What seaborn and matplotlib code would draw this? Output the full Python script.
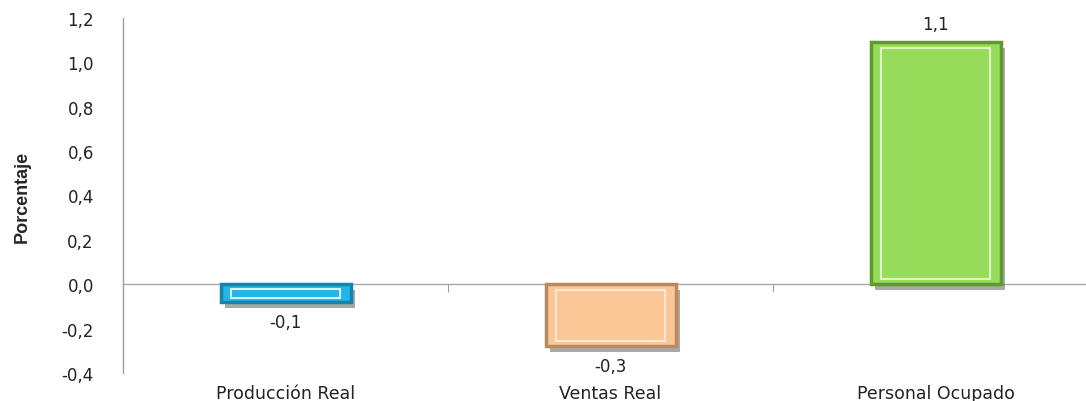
import matplotlib
matplotlib.use("Agg")
import matplotlib.pyplot as plt
import matplotlib.patheffects as pe
from matplotlib.patches import Rectangle
import seaborn as sns
import pandas as pd

# data
categorias = ["Producción Real", "Ventas Real", "Personal Ocupado"]
valores = [-0.08, -0.28, 1.09]
etiquetas = ["-0,1", "-0,3", "1,1"]
colores = ["#22B5E8", "#FBC797", "#97DB5A"]
bordes = ["#1683AD", "#B98A60", "#5E9A2E"]
brillos = ["#D8F3FF", "#FFE9D2", "#DDF7C4"]
yticks = [-0.4, -0.2, 0.0, 0.2, 0.4, 0.6, 0.8, 1.0, 1.2]

sns.set_style("white")
plt.rcParams["font.family"] = ["DejaVu Sans"]

df = pd.DataFrame({"categoria": categorias, "valor": valores})

fig = plt.figure(figsize=(10.86, 4.02), dpi=100)
ax = fig.add_axes([123 / 1086, 28 / 402, (1086 - 123) / 1086, 355 / 402])

sns.barplot(data=df, x="categoria", y="valor", hue="categoria",
            palette=colores, width=0.4, legend=False, ax=ax, saturation=1)

shadow = [pe.SimplePatchShadow(offset=(3, -4), alpha=0.5, shadow_rgbFace="#555555"),
          pe.Normal()]
for bar, borde, brillo in zip(ax.patches, bordes, brillos):
    bar.set_edgecolor(borde)
    bar.set_linewidth(2.5)
    bar.set_path_effects(shadow)
    # inner bevel frame
    x0, y0 = bar.get_x(), bar.get_y()
    w, h = bar.get_width(), bar.get_height()
    dx = w * 0.08
    dy = min(abs(h) * 0.25, 0.025) * (1 if h >= 0 else -1)
    inner = Rectangle((x0 + dx, y0 + dy), w - 2 * dx, h - 2 * dy,
                      facecolor="none", edgecolor=brillo, linewidth=1.5)
    ax.add_patch(inner)

for i, (v, t) in enumerate(zip(valores, etiquetas)):
    if v >= 0:
        ax.annotate(t, (i, v), xytext=(0, 7), textcoords="offset points",
                    ha="center", va="bottom", fontsize=12, color="#222222")
    else:
        ax.annotate(t, (i, v), xytext=(0, -8), textcoords="offset points",
                    ha="center", va="top", fontsize=12, color="#222222")

ax.set_ylim(-0.4, 1.2)
ax.set_xlim(-0.5, 2.5 - 12 / 325)
ax.set_yticks(yticks)
ax.set_yticklabels([f"{t:.1f}".replace(".", ",") for t in yticks],
                   fontsize=12, color="#222222")
ax.tick_params(axis="y", direction="out", length=7, width=1, color="#A0A0A0", pad=14)
ax.tick_params(axis="x", length=0, pad=8, labelsize=12.5, labelcolor="#222222")

ax.axhline(0, color="#A8A8A8", linewidth=1, zorder=0)
for s in ["top", "right", "bottom"]:
    ax.spines[s].set_visible(False)
ax.spines["left"].set_color("#A0A0A0")
ax.spines["left"].set_linewidth(1)

# category boundary ticks on the zero line
sec = ax.secondary_xaxis(0.25)
sec.set_xticks([0.5, 1.5])
sec.set_xticklabels([])
sec.tick_params(axis="x", direction="out", length=6, color="#A0A0A0")
sec.spines["bottom"].set_visible(False)

ax.set_xlabel("")
ax.set_ylabel("Porcentaje", fontsize=13, fontweight="bold",
              family=["Liberation Sans", "DejaVu Sans"], labelpad=22)

fig.savefig("out.png", dpi=100)
